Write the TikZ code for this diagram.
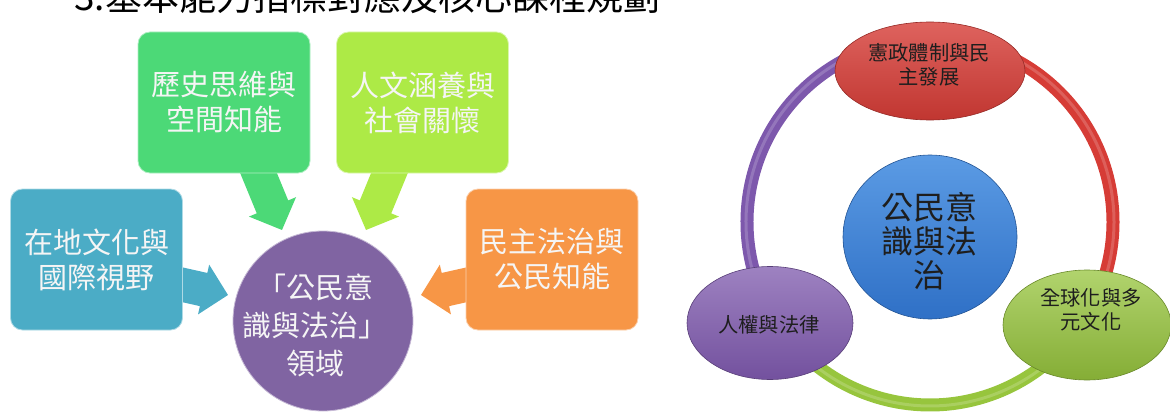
\documentclass[tikz,border=0pt]{standalone}
\usepackage{fontspec}
\newfontfamily\cjk{Noto Sans CJK TC}
\usetikzlibrary{shapes.geometric,calc}
\definecolor{cgreen}{HTML}{4CD977}
\definecolor{clime}{HTML}{ADEA46}
\definecolor{cblue}{HTML}{4BACC6}
\definecolor{corange}{HTML}{F79646}
\definecolor{cpurple}{HTML}{8064A2}
\definecolor{ringred}{HTML}{D63C36}
\definecolor{ringgreen}{HTML}{97C53D}
\definecolor{ringpurple}{HTML}{7D58AC}
\definecolor{coretop}{HTML}{5B9BE4}
\definecolor{corebot}{HTML}{2F70C6}
\definecolor{txtdark}{HTML}{1E1E1E}
\newcommand\blockarr[3]{%
  \fill[#1] let \p1=(#2), \p2=(#3), \n1={atan2(\y2-\y1,\x2-\x1)}, \n2={veclen(\x2-\x1,\y2-\y1)} in
    [shift={(\p1)}, rotate=\n1]
    (0,-17) -- ({\n2-25},-17) -- ({\n2-25},-25.5) -- (\n2,0) -- ({\n2-25},25.5) -- ({\n2-25},17) -- (0,17) -- cycle;}
\begin{document}
\begin{tikzpicture}[x=1pt,y=-1pt,
  ybox/.style={draw=white!55!#1, line width=0.8pt, fill=#1, rounded corners=12pt,
    minimum width=172pt, minimum height=141pt, text=white!96!black, align=center,
    font=\cjk\fontsize{29}{35}\selectfont, inner sep=0pt},
  bigtext/.style={text=white!96!black, align=center, font=\cjk\fontsize{29}{38}\selectfont, inner sep=0pt},
  ringseg/.style={line width=13pt, draw=#1},
  ringhl/.style={line width=3pt, draw=#1!82!white},
  oval/.style={ellipse, inner sep=0pt, line width=0.6pt},
  smalltext/.style={text=txtdark, align=center, font=\cjk\fontsize{20.3}{24}\selectfont, inner sep=0pt},
  midtext/.style={text=txtdark, align=center, font=\cjk\fontsize{32}{34}\selectfont, inner sep=0pt}
]
\useasboundingbox (0,0) rectangle (1170,412);
\clip (0,0) rectangle (1170,412);

% title (cut at top, as in the reference)
\node[anchor=base west, inner sep=0pt, font=\cjk\fontsize{37}{40}\selectfont] (title) at (74,10.5) {3.基本能力指標對應及核心課程規劃};

% ---------- left diagram ----------
\coordinate (gtail) at (252.8,159.1);
\coordinate (gtip) at (282,230);
\coordinate (ltail) at (395.2,159.1);
\coordinate (ltip) at (366,230);
\coordinate (btail) at (170,282);
\coordinate (btip) at (228,295);
\coordinate (otail) at (479,282);
\coordinate (otip) at (421,295);
\blockarr{cgreen}{gtail}{gtip}
\blockarr{clime}{ltail}{ltip}
\blockarr{cblue}{btail}{btip}
\blockarr{corange}{otail}{otip}

\node[ybox=cgreen] (hist) at (224,102.5) {歷史思維與\\空間知能};
\node[ybox=clime] (human) at (422.5,102.5) {人文涵養與\\社會關懷};
\node[ybox=cblue] (local) at (96.5,259.5) {在地文化與\\國際視野};
\node[ybox=corange] (demo) at (552,259.5) {民主法治與\\公民知能};

\node[circle, minimum size=180pt, inner sep=0pt, fill=cpurple, draw=white!55!cpurple, line width=0.8pt] (dom) at (323,321) {};
\node[bigtext] (domt) at (315,325) {「公民意\\識與法治」\\領域};

% ---------- right diagram ----------
\coordinate (rc) at (930,222);
\draw[ringseg=ringred] ($(rc)+(-90:183)$) arc[start angle=-90, end angle=33.4, radius=183];
\draw[ringseg=ringgreen] ($(rc)+(33.4:183)$) arc[start angle=33.4, end angle=147.7, radius=183];
\draw[ringseg=ringpurple] ($(rc)+(147.7:183)$) arc[start angle=147.7, end angle=270, radius=183];
\draw[ringhl=ringred] ($(rc)+(-90:184)$) arc[start angle=-90, end angle=33.4, radius=184];
\draw[ringhl=ringgreen] ($(rc)+(33.4:184)$) arc[start angle=33.4, end angle=147.7, radius=184];
\draw[ringhl=ringpurple] ($(rc)+(147.7:184)$) arc[start angle=147.7, end angle=270, radius=184];

\node[oval, minimum width=190pt, minimum height=98pt, top color=ringred!80!white, bottom color=ringred!90!black, draw=ringred!70!black] (const) at (930,71) {};
\node[oval, minimum width=166pt, minimum height=113pt, top color=ringpurple!75!white, bottom color=ringpurple!92!black, draw=ringpurple!70!black] (rights) at (770,323) {};
\node[oval, minimum width=168pt, minimum height=110pt, top color=ringgreen!75!white, bottom color=ringgreen!88!black, draw=ringgreen!70!black] (glob) at (1087,325) {};
\node[oval, minimum width=174pt, minimum height=164pt, top color=coretop, bottom color=corebot, draw=corebot!75!black] (core) at (930,237) {};

\node[smalltext] (constt) at (929,65) {憲政體制與民\\主發展};
\node[smalltext] (rightst) at (769,325) {人權與法律};
\node[smalltext] (globt) at (1091,310) {全球化與多\\元文化};
\node[midtext] (coret) at (929,241) {公民意\\識與法\\治};
\end{tikzpicture}
\end{document}
